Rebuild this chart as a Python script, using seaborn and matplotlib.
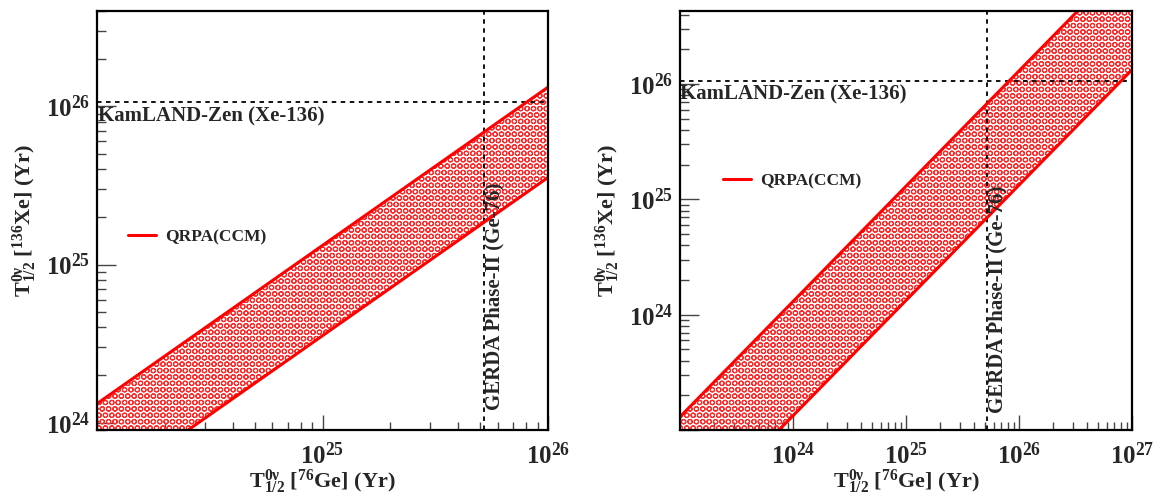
import numpy as np
import pandas as pd
import matplotlib
matplotlib.use("Agg")
import matplotlib.pyplot as plt
import matplotlib.transforms as mtransforms
from matplotlib.ticker import FixedLocator, FuncFormatter, NullFormatter
import seaborn as sns

# ---------------- data ----------------
# left panel
left_ge = [1e24, 1e26]
left_xe_low = [3.55e23, 3.55e25]
left_xe_high = [1.32e24, 1.32e26]
left_xlim = (1e24, 1e26)
left_ylim = (0.9e24, 4.0e26)
left_xlabels = [1e25, 1e26]
left_ylabels = [1e24, 1e25, 1e26]

# right panel
right_ge = [1e23, 1e27]
right_xe_low = [1.33e22, 1.33e26]
right_xe_high = [1.30e23, 1.30e27]
right_xlim = (1e23, 1e27)
right_ylim = (1e23, 4.3e26)
right_xlabels = [1e24, 1e25, 1e26, 1e27]
right_ylabels = [1e24, 1e25, 1e26]

kamland_limit = 1.07e26
gerda_limit = 5.2e25

series_label = "QRPA(CCM)"
kamland_text = "KamLAND-Zen (Xe-136)"
gerda_text = "GERDA Phase-II (Ge-76)"
xlabel_text = r"$\mathbf{T^{0\nu}_{1/2}}$ [$^{\mathbf{76}}$Ge] (Yr)"
ylabel_text = r"$\mathbf{T^{0\nu}_{1/2}}$ [$^{\mathbf{136}}$Xe] (Yr)"

# ---------------- style ----------------
DPI = 115
W, H = 1153, 497
S = 100.0 / DPI  # keep sizes as if drawn at 100 dpi


def pt(v):
    return v * S


sns.set_theme(style="ticks")
plt.rcParams["font.family"] = ["Liberation Serif", "DejaVu Serif"]
plt.rcParams["font.weight"] = "bold"
plt.rcParams["mathtext.fontset"] = "custom"
plt.rcParams["mathtext.rm"] = "Liberation Serif:bold"
plt.rcParams["mathtext.it"] = "Liberation Serif:bold"
plt.rcParams["mathtext.bf"] = "Liberation Serif:bold"
plt.rcParams["hatch.linewidth"] = pt(0.8)

fig = plt.figure(figsize=(W / DPI, H / DPI), dpi=DPI)
axL = fig.add_axes([97 / W, (H - 430) / H, (548 - 97) / W, (430 - 11) / H])
axR = fig.add_axes([680 / W, (H - 430) / H, (1132 - 680) / W, (430 - 11) / H])


def decade_fmt(labels):
    def f(v, pos):
        for l in labels:
            if abs(np.log10(v) - np.log10(l)) < 1e-6:
                return r"$\mathbf{10^{%d}}$" % int(round(np.log10(l)))
        return ""
    return FuncFormatter(f)


def setup(ax, ge, lo, hi, xlim, ylim, xl, yl, legpos, gerda_yfrac):
    df = pd.DataFrame({"ge": ge * 2, "xe": lo + hi,
                       "edge": ["low"] * len(ge) + ["high"] * len(ge)})
    ax.fill_between(ge, lo, hi, facecolor="none", edgecolor="#ff2a2a",
                    hatch="OOO", linewidth=0, zorder=1)
    sns.lineplot(data=df[df.edge == "high"], x="ge", y="xe", ax=ax,
                 color="#ff0000", linewidth=pt(2.2), label=series_label, zorder=3)
    sns.lineplot(data=df[df.edge == "low"], x="ge", y="xe", ax=ax,
                 color="#ff0000", linewidth=pt(2.2), zorder=3)
    ax.set_xscale("log")
    ax.set_yscale("log")
    ax.set_xlim(*xlim)
    ax.set_ylim(*ylim)

    # reference lines
    dash = (0, (2.5, 2.5))
    ax.axhline(kamland_limit, color="black", linestyle=dash, linewidth=pt(1.3), zorder=2)
    ax.axvline(gerda_limit, color="black", linestyle=dash, linewidth=pt(1.3), zorder=2)

    ax.text(xlim[0] * 1.01, kamland_limit * 0.93, kamland_text, ha="left", va="top",
            fontsize=pt(15), fontweight="bold", zorder=4)
    trans = mtransforms.blended_transform_factory(ax.transData, ax.transAxes)
    ax.text(gerda_limit * 1.01, gerda_yfrac, gerda_text, rotation=90, ha="left",
            va="bottom", fontsize=pt(15), fontweight="bold", transform=trans, zorder=4)

    # ticks
    xdec = [10.0 ** k for k in range(int(np.floor(np.log10(xlim[0]))), int(np.ceil(np.log10(xlim[1]))) + 1)]
    ydec = [10.0 ** k for k in range(int(np.floor(np.log10(ylim[0]))), int(np.ceil(np.log10(ylim[1]))) + 1)]
    ax.xaxis.set_major_locator(FixedLocator(xdec))
    ax.yaxis.set_major_locator(FixedLocator(ydec))
    ax.xaxis.set_minor_locator(FixedLocator([d * s for d in xdec for s in range(2, 10)]))
    ax.yaxis.set_minor_locator(FixedLocator([d * s for d in ydec for s in range(2, 10)]))
    ax.xaxis.set_major_formatter(decade_fmt(xl))
    ax.yaxis.set_major_formatter(decade_fmt(yl))
    ax.xaxis.set_minor_formatter(NullFormatter())
    ax.yaxis.set_minor_formatter(NullFormatter())
    ax.tick_params(axis="x", which="major", direction="in", length=pt(10.8), width=pt(1.0),
                   color="#444444", labelsize=pt(18), pad=pt(9), top=False)
    ax.tick_params(axis="x", which="minor", direction="in", length=pt(5.8), width=pt(1.0),
                   color="#444444", top=False)
    ax.tick_params(axis="y", which="major", direction="in", length=pt(13.7), width=pt(1.0),
                   color="#444444", labelsize=pt(18), pad=pt(5), right=False)
    ax.tick_params(axis="y", which="minor", direction="in", length=pt(6.5), width=pt(1.0),
                   color="#444444", right=False)
    for s in ax.spines.values():
        s.set_linewidth(pt(1.6))
        s.set_color("black")
        s.set_zorder(5)

    ax.set_xlabel(xlabel_text, fontsize=pt(16), fontweight="bold", labelpad=pt(-1.5))
    ax.set_ylabel(ylabel_text, fontsize=pt(16), fontweight="bold", labelpad=pt(5))

    leg = ax.legend(loc="center left", bbox_to_anchor=legpos, frameon=False,
                    fontsize=pt(12.5), handlelength=1.6, handletextpad=0.55,
                    borderpad=0, borderaxespad=0)
    for t in leg.get_texts():
        t.set_fontweight("bold")


setup(axL, left_ge, left_xe_low, left_xe_high, left_xlim, left_ylim,
      left_xlabels, left_ylabels, (0.069, 0.46), 0.048)
setup(axR, right_ge, right_xe_low, right_xe_high, right_xlim, right_ylim,
      right_xlabels, right_ylabels, (0.095, 0.594), 0.04)

fig.savefig("out.png", dpi=DPI)
